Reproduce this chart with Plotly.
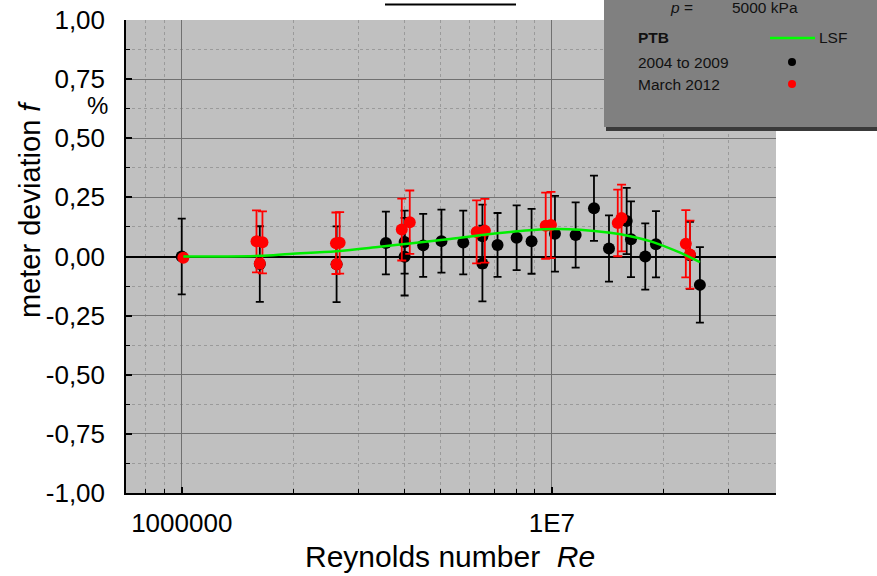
import plotly.graph_objects as go
import numpy as np

# ---- data ----
black_re = [1.0e6, 1.625e6, 2.62e6, 3.56e6, 4.0e6, 4.0e6, 4.49e6, 5.03e6, 5.76e6, 6.49e6, 6.49e6,
            7.13e6, 8.03e6, 8.81e6, 1.019e7, 1.159e7, 1.299e7, 1.426e7, 1.592e7, 1.635e7, 1.787e7,
            1.910e7, 2.36e7, 2.51e7]
black_f = [0.0, -0.032, -0.033, 0.057, 0.061, -0.001, 0.047, 0.065, 0.059, 0.086, -0.030,
           0.049, 0.079, 0.064, 0.096, 0.091, 0.204, 0.034, 0.150, 0.073, 0.000,
           0.052, 0.005, -0.120]
black_err = [0.16, 0.16, 0.16, 0.133, 0.133, 0.164, 0.133, 0.133, 0.135, 0.133, 0.16,
             0.135, 0.137, 0.137, 0.16, 0.138, 0.138, 0.14, 0.14, 0.16, 0.14,
             0.14, 0.142, 0.16]

red_re = [1.01e6, 1.592e6, 1.652e6, 1.625e6, 2.61e6, 2.67e6, 2.62e6, 3.93e6, 4.13e6, 6.26e6, 6.59e6,
          9.62e6, 9.94e6, 1.506e7, 1.542e7, 2.30e7, 2.36e7]
red_f = [-0.005, 0.064, 0.060, -0.030, 0.056, 0.058, -0.033, 0.114, 0.145, 0.104, 0.109,
         0.130, 0.133, 0.142, 0.163, 0.054, 0.008]
red_err = [0, 0.131, 0.131, 0, 0.130, 0.130, 0, 0.131, 0.134, 0.133, 0.135,
           0.140, 0.140, 0.141, 0.141, 0.142, 0.144]

lsf_re = [1.01e6, 1.625e6, 1.958e6, 2.62e6, 3.43e6, 4.13e6, 5.30e6, 7.23e6, 8.71e6, 1.019e7,
          1.19e7, 1.436e7, 1.626e7, 1.84e7, 2.22e7, 2.51e7]
lsf_f = [0.0, 0.003, 0.011, 0.022, 0.041, 0.055, 0.074, 0.099, 0.111, 0.116,
         0.113, 0.100, 0.086, 0.065, 0.016, -0.024]

x_tickvals = [1e6, 1e7]
x_ticktext = ["1000000", "1E7"]
x_minor = [8e5, 9e5] + [k * 1e6 for k in range(2, 10)] + [2e7, 3e7]
y_tickvals = [-1.0, -0.75, -0.5, -0.25, 0.0, 0.25, 0.5, 0.75, 1.0]
y_ticktext = ["-1,00", "-0,75", "-0,50", "-0,25", "0,00", "0,25", "0,50", "0,75", "1,00"]
y_minor = [-0.875, -0.625, -0.375, -0.125, 0.125, 0.375, 0.625, 0.875]

FONT = "Liberation Sans, Arial, sans-serif"

# ---- geometry (pixels) ----
W, H = 877, 576
L, R, T, B = 126, 776, 20, 493
def px(x):
    return (x - L) / (R - L)
def py(y):
    return (B - y) / (B - T)

fig = go.Figure()

fig.add_trace(go.Scatter(
    x=black_re, y=black_f, mode="markers",
    marker=dict(color="black", size=12),
    error_y=dict(type="data", array=black_err, visible=True, color="black", thickness=1.8, width=4),
    showlegend=False))

fig.add_trace(go.Scatter(
    x=red_re, y=red_f, mode="markers",
    marker=dict(color="#ff0000", size=12),
    error_y=dict(type="data", array=red_err, visible=True, color="#ff0000", thickness=1.8, width=4.5),
    showlegend=False))

fig.add_trace(go.Scatter(
    x=lsf_re, y=lsf_f, mode="lines",
    line=dict(color="#00ee00", width=2.5, shape="spline", smoothing=1.0),
    showlegend=False))

shapes = []
# legend box
shapes.append(dict(type="rect", xref="paper", yref="paper",
                   x0=px(606), x1=px(880), y0=py(131), y1=py(126),
                   fillcolor="#3a3a3a", line=dict(width=0), layer="above"))
shapes.append(dict(type="rect", xref="paper", yref="paper",
                   x0=px(604), x1=px(880), y0=py(127), y1=py(-5),
                   fillcolor="#808080", line=dict(width=0), layer="above"))
shapes.append(dict(type="line", xref="paper", yref="paper",
                   x0=px(770), x1=px(815), y0=py(38), y1=py(38),
                   line=dict(color="#00ff00", width=2.5), layer="above"))
for cy, col in [(62, "black"), (84, "#ff0000")]:
    shapes.append(dict(type="circle", xref="paper", yref="paper",
                       x0=px(788), x1=px(796), y0=py(cy + 4), y1=py(cy - 4),
                       fillcolor=col, line=dict(width=0), layer="above"))
# clipped title underline
shapes.append(dict(type="line", xref="paper", yref="paper",
                   x0=px(385), x1=px(516), y0=py(4.5), y1=py(4.5),
                   line=dict(color="black", width=2)))

ann = []
lf = dict(family=FONT, size=15.5, color="#111111")
ann.append(dict(text="<i>p</i> =", x=px(695), y=py(8), xref="paper", yref="paper",
                xanchor="right", yanchor="middle", showarrow=False, font=lf))
ann.append(dict(text="5000 kPa", x=px(730), y=py(8), xref="paper", yref="paper",
                xanchor="left", yanchor="middle", showarrow=False, font=lf))
ann.append(dict(text="<b>PTB</b>", x=px(636), y=py(38), xref="paper", yref="paper",
                xanchor="left", yanchor="middle", showarrow=False, font=lf))
ann.append(dict(text="LSF", x=px(817), y=py(38), xref="paper", yref="paper",
                xanchor="left", yanchor="middle", showarrow=False, font=lf))
ann.append(dict(text="2004 to 2009", x=px(636), y=py(62), xref="paper", yref="paper",
                xanchor="left", yanchor="middle", showarrow=False, font=lf))
ann.append(dict(text="March 2012", x=px(636), y=py(84), xref="paper", yref="paper",
                xanchor="left", yanchor="middle", showarrow=False, font=lf))
# axis titles
ann.append(dict(text="meter deviation <i>f</i>", x=px(30), y=py(209), xref="paper", yref="paper",
                xanchor="center", yanchor="middle", textangle=-90, showarrow=False,
                font=dict(family=FONT, size=29, color="black")))
ann.append(dict(text="%", x=px(97), y=py(106), xref="paper", yref="paper",
                xanchor="center", yanchor="middle", showarrow=False,
                font=dict(family=FONT, size=24, color="black")))
ann.append(dict(text="Reynolds number  <i>Re</i>", x=px(450), y=py(556), xref="paper", yref="paper",
                xanchor="center", yanchor="middle", showarrow=False,
                font=dict(family=FONT, size=30, color="black")))

xr = [np.log10(7.07e5), np.log10(4.03e7)]

fig.update_layout(
    width=W, height=H,
    margin=dict(l=L, r=W - R, t=T, b=H - B, autoexpand=False),
    paper_bgcolor="white", plot_bgcolor="#c0c0c0",
    font=dict(family=FONT, size=26, color="black"),
    shapes=shapes, annotations=ann,
    xaxis=dict(type="log", range=xr, tickmode="array", tickvals=x_tickvals, ticktext=x_ticktext,
               showgrid=True, gridcolor="#707070", gridwidth=1,
               ticks="inside", ticklen=6, tickcolor="black", tickwidth=1.5,
               showline=True, linecolor="black", linewidth=1.5, mirror=False,
               zeroline=False, tickfont=dict(size=26), ticklabelstandoff=6,
               minor=dict(tickmode="array", tickvals=x_minor, showgrid=True, gridcolor="#9a9a9a",
                          griddash="dot", gridwidth=1, ticks="inside", ticklen=4,
                          tickcolor="black", tickwidth=1)),
    yaxis=dict(range=[-1.0, 1.0], tickmode="array", tickvals=y_tickvals, ticktext=y_ticktext,
               showgrid=True, gridcolor="#707070", gridwidth=1,
               ticks="inside", ticklen=6, tickcolor="black", tickwidth=1.5,
               showline=True, linecolor="black", linewidth=1.5, mirror=False,
               zeroline=True, zerolinecolor="black", zerolinewidth=2,
               tickfont=dict(size=26), ticklabelstandoff=14,
               minor=dict(tickmode="array", tickvals=y_minor, showgrid=True, gridcolor="#9a9a9a",
                          griddash="dot", gridwidth=1, ticks="inside", ticklen=4,
                          tickcolor="black", tickwidth=1)),
)

fig.write_html("out.html", config={"displayModeBar": False},
               post_script="document.body.style.margin='0';document.body.style.overflow='hidden';")
